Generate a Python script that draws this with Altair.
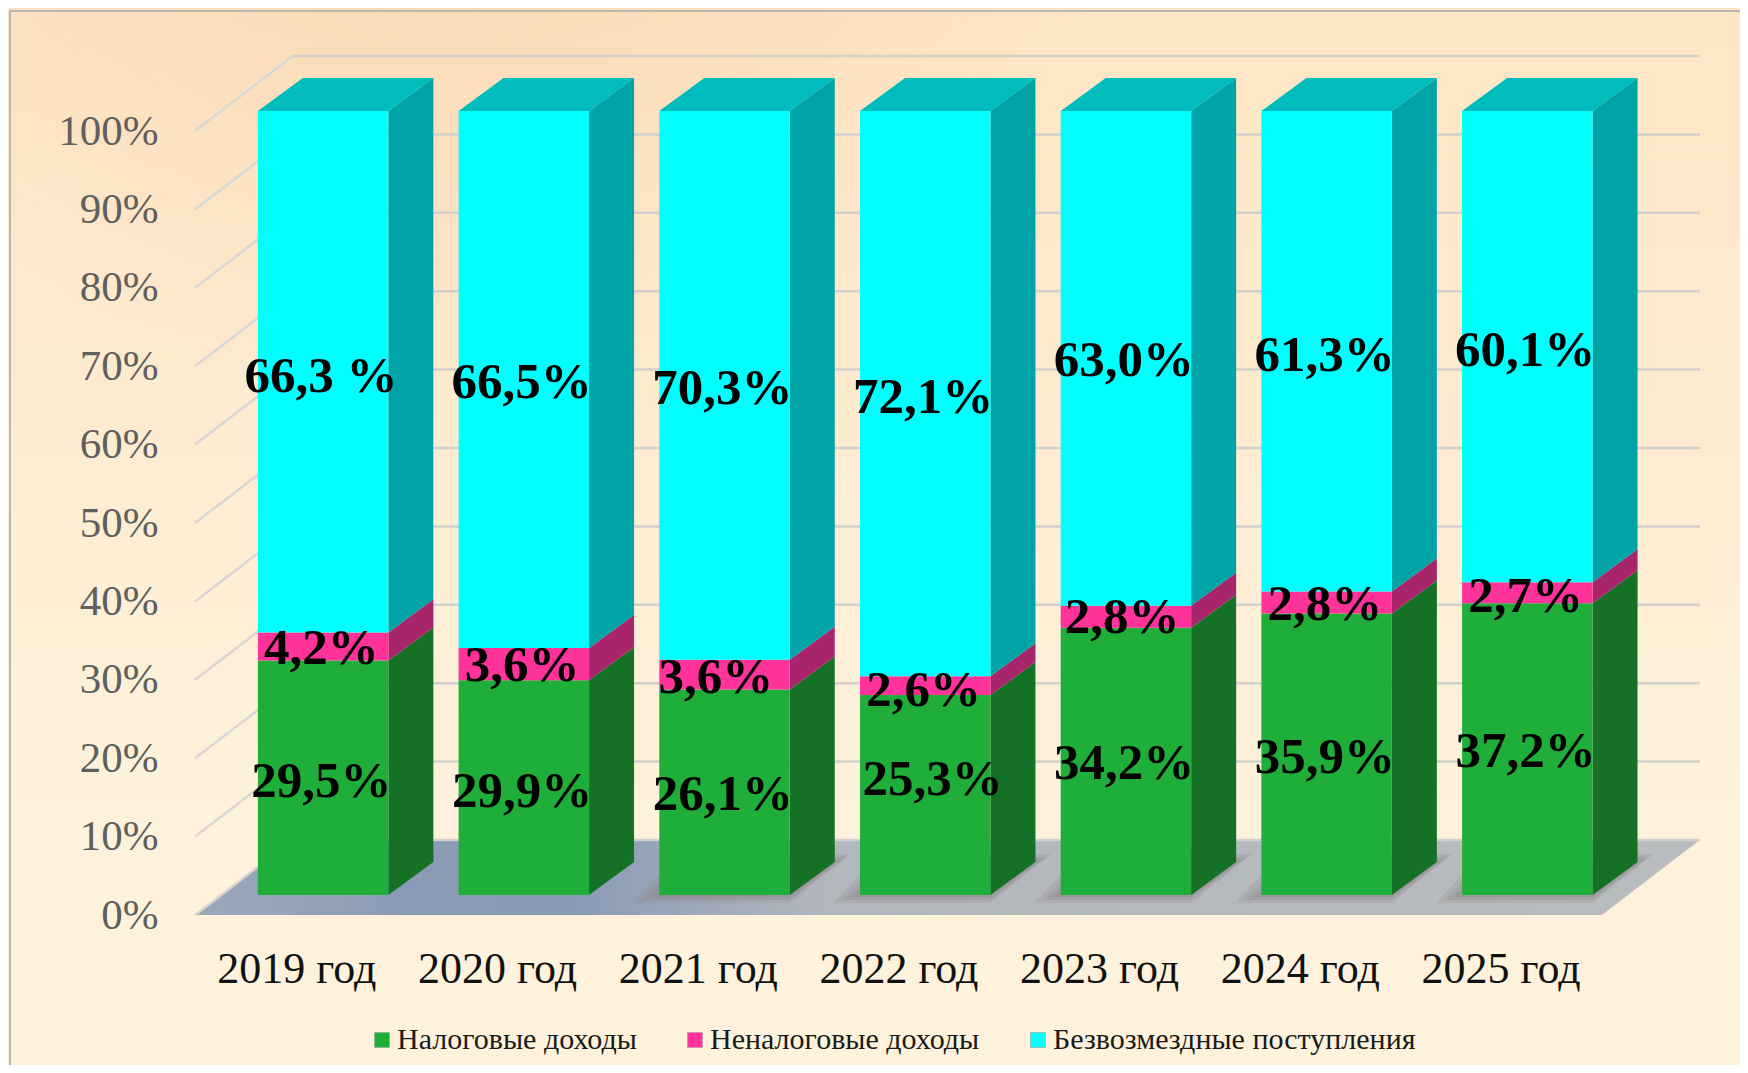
import altair as alt
import pandas as pd

YEARS = ["2019 год", "2020 год", "2021 год", "2022 год", "2023 год", "2024 год", "2025 год"]
SERIES = ["Налоговые доходы", "Неналоговые доходы", "Безвозмездные поступления"]

# heights as drawn in the picture
TAX = [29.9, 27.4, 26.2, 25.5, 34.1, 35.9, 37.2]
NONTAX = [3.6, 4.1, 3.8, 2.4, 2.8, 2.8, 2.7]
GRANTS = [66.5, 68.5, 70.0, 72.1, 63.1, 61.3, 60.1]

# printed labels
TAX_LABELS = ["29,5%", "29,9%", "26,1%", "25,3%", "34,2%", "35,9%", "37,2%"]
NONTAX_LABELS = ["4,2%", "3,6%", "3,6%", "2,6%", "2,8%", "2,8%", "2,7%"]
GRANTS_LABELS = ["66,3 %", "66,5%", "70,3%", "72,1%", "63,0%", "61,3%", "60,1%"]

# label anchor heights on the percent axis
TAX_LABEL_Y = [17.2, 16.0, 15.5, 17.5, 19.5, 20.3, 21.0]
NONTAX_LABEL_Y = [34.2, 32.0, 30.5, 28.8, 38.1, 39.8, 40.8]
GRANTS_LABEL_Y = [68.9, 68.1, 67.4, 66.2, 70.9, 71.6, 72.2]
TAX_LABEL_X = [0.63, 0.63, 0.63, 0.675, 0.63, 0.63, 0.63]
NONTAX_LABEL_X = [0.63, 0.63, 0.595, 0.63, 0.62, 0.63, 0.63]

COLORS = ["#1fae39", "#ff3399", "#00ffff"]
SIDES = ["#147126", "#a8256b", "#00a3a6"]
TOP = "#00bcbc"
TICKS = list(range(0, 101, 10))

# projection, in axis units
BAR_LEFT, BAR_W = 0.3134, 0.650
BAR_BASE = 2.55
BAR_DX, BAR_DY = 0.2242, 4.21
WALL_DX, WALL_DY = 0.488, 9.57
FRONT_END = 7.01
X_MAX, Y_MAX = 7.4988, 109.57

W, H = 1505, 859
PAD_L, PAD_T = 187, 48
FULL_W, FULL_H = 1732, 1057

xs = alt.Scale(domain=[0, X_MAX], nice=False, zero=False)
ys = alt.Scale(domain=[0, Y_MAX], nice=False, zero=False)
FONT = "Liberation Serif"

AX = alt.Axis(
    title=None, values=[i + 0.505 for i in range(len(YEARS))],
    labelExpr="['" + "','".join(YEARS) + "'][floor(datum.value)]",
    domain=False, ticks=False, grid=False, labelFont=FONT, labelFontSize=44,
    labelColor="#111111", labelPadding=32, labelOverlap=False, labelFlush=False, zindex=1,
)
AY = alt.Axis(
    title=None, values=TICKS, labelExpr="datum.value + '%'",
    domain=False, ticks=False, grid=False, labelFont=FONT, labelFontSize=43,
    labelColor="#5f5f5f", labelPadding=37, labelOverlap=False, labelFlush=False, zindex=1,
)


def X(f="x"):
    return alt.X(f"{f}:Q", scale=xs, axis=AX)


def Y(f="y"):
    return alt.Y(f"{f}:Q", scale=ys, axis=AY, stack=None)


one = pd.DataFrame({"a": [0]})

bg_rect = dict(
    x=alt.value(-PAD_L), x2=alt.value(FULL_W - PAD_L),
    y=alt.value(-PAD_T), y2=alt.value(FULL_H - PAD_T),
)
bg_base = alt.Chart(one).mark_rect(
    color=alt.Gradient(
        gradient="linear", x1=0, y1=0, x2=0, y2=1,
        stops=[
            alt.GradientStop(color="#fde6c4", offset=0),
            alt.GradientStop(color="#fdeacd", offset=0.3),
            alt.GradientStop(color="#fef2dc", offset=0.75),
            alt.GradientStop(color="#fef2dc", offset=1),
        ],
    )
).encode(**bg_rect)
bg_glow = alt.Chart(one).mark_rect(
    color=alt.Gradient(
        gradient="radial", x1=0.25, y1=0.0, r1=0, x2=0.25, y2=0.0, r2=0.42,
        stops=[
            alt.GradientStop(color="rgba(247,205,170,0.8)", offset=0),
            alt.GradientStop(color="rgba(247,205,170,0)", offset=1),
        ],
    )
).encode(**bg_rect)

border_c = "#b9b7b3"
border_h = alt.Chart(one).mark_rule(color=border_c, strokeWidth=2).encode(
    x=alt.value(10 - 8 - PAD_L), x2=alt.value(FULL_W - PAD_L), y=alt.value(11 - 8 - PAD_T)
)
border_v = alt.Chart(one).mark_rule(color=border_c, strokeWidth=2).encode(
    x=alt.value(10 - 8 - PAD_L), y=alt.value(11 - 8 - PAD_T), y2=alt.value(FULL_H - PAD_T)
)

# floor
floor_df = pd.DataFrame({"y": [0, WALL_DY], "x": [0, WALL_DX], "x2": [FRONT_END, FRONT_END + WALL_DX]})
floor = alt.Chart(floor_df).mark_area(
    orient="horizontal",
    color=alt.Gradient(
        gradient="linear", x1=0, y1=0, x2=1, y2=0,
        stops=[
            alt.GradientStop(color="#9ca8bb", offset=0),
            alt.GradientStop(color="#8c9bb5", offset=0.14),
            alt.GradientStop(color="#8a9ab5", offset=0.25),
            alt.GradientStop(color="#b2b7bd", offset=0.42),
            alt.GradientStop(color="#b8bcbe", offset=1),
        ],
    ),
).encode(y=Y(), x=X(), x2="x2:Q")

# gridlines
wall_rows = []
for t in TICKS:
    wall_rows += [{"t": t, "x": 0, "y": t}, {"t": t, "x": WALL_DX, "y": t + WALL_DY}]
wall = alt.Chart(pd.DataFrame(wall_rows)).mark_line(color="#d9d7d3", strokeWidth=2.5).encode(
    x=X(), y=Y(), detail="t:N"
)
back_df = pd.DataFrame({"y": [t + WALL_DY for t in TICKS], "x": [WALL_DX] * len(TICKS), "x2": [X_MAX] * len(TICKS)})
back = alt.Chart(back_df).mark_rule(color="#d2d0cc", strokeWidth=2.5).encode(y=Y(), x=X(), x2="x2:Q")


# contact shadows, for the bars standing on the grey part of the floor
def shadow_layer(grow_x, grow_y, opacity):
    rows = []
    for i in range(2, len(YEARS)):
        l = i + BAR_LEFT
        r = l + BAR_W
        rows += [
            {"b": i, "y": BAR_BASE - grow_y, "x": l - grow_x, "x2": r},
            {"b": i, "y": BAR_BASE + BAR_DY + grow_y, "x": l - grow_x + BAR_DX, "x2": r + BAR_DX + grow_x * 0.6},
        ]
    return alt.Chart(pd.DataFrame(rows)).mark_area(
        orient="horizontal", color="#8b8586", opacity=opacity
    ).encode(y=Y(), x=X(), x2="x2:Q", detail="b:N")


shadows = [shadow_layer(0.13, 1.0, 0.22), shadow_layer(0.09, 0.65, 0.25), shadow_layer(0.05, 0.3, 0.3)]

# bars
series_vals = [TAX, NONTAX, GRANTS]
front_rows, side_layers = [], []
for s, name in enumerate(SERIES):
    side_rows = []
    for i in range(len(YEARS)):
        lo = BAR_BASE + sum(series_vals[k][i] for k in range(s))
        hi = lo + series_vals[s][i]
        l = i + BAR_LEFT
        r = l + BAR_W
        front_rows.append({"series": name, "x": l, "x2": r, "y": lo, "y2": hi})
        side_rows += [
            {"b": i, "x": r, "y": lo, "y2": hi},
            {"b": i, "x": r + BAR_DX, "y": lo + BAR_DY, "y2": hi + BAR_DY},
        ]
    side_layers.append(
        alt.Chart(pd.DataFrame(side_rows)).mark_area(orient="vertical", color=SIDES[s]).encode(
            x=X(), y=Y(), y2="y2:Q", detail="b:N"
        )
    )

top_rows = []
for i in range(len(YEARS)):
    l = i + BAR_LEFT
    r = l + BAR_W
    t = BAR_BASE + 100
    top_rows += [
        {"b": i, "y": t, "x": l, "x2": r},
        {"b": i, "y": t + BAR_DY, "x": l + BAR_DX, "x2": r + BAR_DX},
    ]
top = alt.Chart(pd.DataFrame(top_rows)).mark_area(orient="horizontal", color=TOP).encode(
    y=Y(), x=X(), x2="x2:Q", detail="b:N"
)

front = alt.Chart(pd.DataFrame(front_rows)).mark_rect().encode(
    x=X(), x2="x2:Q", y=Y(), y2="y2:Q",
    color=alt.Color(
        "series:N",
        scale=alt.Scale(domain=SERIES, range=COLORS),
        legend=alt.Legend(
            title=None, orient="none", legendX=172, legendY=969, direction="horizontal",
            columns=3, columnPadding=43, symbolType="square", symbolSize=225,
            symbolStrokeColor="#9a9a9a", symbolStrokeWidth=0.5,
            labelFont=FONT, labelFontSize=30, labelColor="#1a1a1a", labelOffset=0,
            labelLimit=500,
        ),
    ),
)

# value labels
lab_rows = []
for i in range(len(YEARS)):
    lab_rows.append({"x": i + 0.628, "y": GRANTS_LABEL_Y[i], "t": GRANTS_LABELS[i]})
    lab_rows.append({"x": i + TAX_LABEL_X[i], "y": TAX_LABEL_Y[i], "t": TAX_LABELS[i]})
    lab_rows.append({"x": i + NONTAX_LABEL_X[i], "y": NONTAX_LABEL_Y[i], "t": NONTAX_LABELS[i]})
labels = alt.Chart(pd.DataFrame(lab_rows)).mark_text(
    font=FONT, fontSize=51, fontWeight="bold", color="#000000", align="center", baseline="middle", dy=2
).encode(x=X(), y=Y(), text="t:N")

chart = alt.layer(
    bg_base, bg_glow, border_h, border_v, floor, wall, back, *shadows,
    *side_layers, top, front, labels,
).properties(
    width=W, height=H,
    padding={"left": PAD_L, "top": PAD_T, "right": FULL_W - PAD_L - W, "bottom": FULL_H - PAD_T - H},
    autosize=alt.AutoSizeParams(type="none"),
    background="#fef2dc",
).configure_view(stroke=None)

chart.save("out.html", embed_options={"renderer": "svg", "actions": False})
